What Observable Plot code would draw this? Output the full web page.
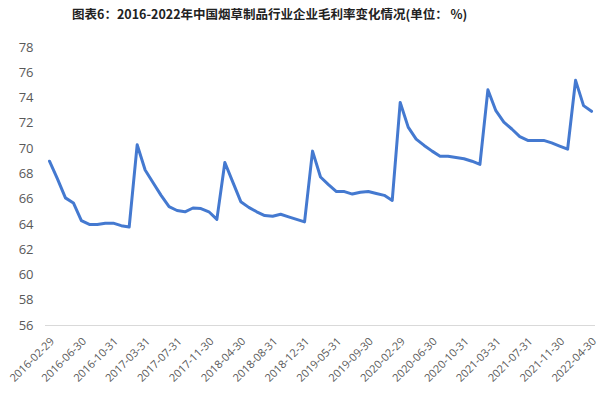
<!DOCTYPE html>
<html><head><meta charset="utf-8">
<script src="https://cdn.jsdelivr.net/npm/d3@7"></script>
<script src="https://cdn.jsdelivr.net/npm/@observablehq/plot@0.6"></script>
<style>
body{margin:0;background:#fff;}
#title{height:30px;line-height:28px;padding-left:72px;font-family:"Noto Sans CJK SC","Noto Sans",sans-serif;font-weight:bold;font-size:12.5px;color:#222;white-space:nowrap;box-sizing:border-box;}
</style></head>
<body>
<div id="title">图表6：2016-2022年中国烟草制品行业企业毛利率变化情况(单位： %)</div>
<div id="chart"></div>
<script>
const dates = [
"2016-02-29","2016-03-31","2016-04-30","2016-05-31","2016-06-30","2016-07-31","2016-08-31","2016-09-30","2016-10-31","2016-11-30","2016-12-31",
"2017-02-28","2017-03-31","2017-04-30","2017-05-31","2017-06-30","2017-07-31","2017-08-31","2017-09-30","2017-10-31","2017-11-30","2017-12-31",
"2018-02-28","2018-03-31","2018-04-30","2018-05-31","2018-06-30","2018-07-31","2018-08-31","2018-09-30","2018-10-31","2018-11-30","2018-12-31",
"2019-02-28","2019-03-31","2019-04-30","2019-05-31","2019-06-30","2019-07-31","2019-08-31","2019-09-30","2019-10-31","2019-11-30","2019-12-31",
"2020-02-29","2020-03-31","2020-04-30","2020-05-31","2020-06-30","2020-07-31","2020-08-31","2020-09-30","2020-10-31","2020-11-30","2020-12-31",
"2021-02-28","2021-03-31","2021-04-30","2021-05-31","2021-06-30","2021-07-31","2021-08-31","2021-09-30","2021-10-31","2021-11-30","2021-12-31",
"2022-02-28","2022-03-31","2022-04-30"
];
const margin = [
69.0,67.6,66.1,65.7,64.3,64.0,64.0,64.1,64.1,63.9,63.8,
70.3,68.3,67.3,66.3,65.4,65.1,65.0,65.3,65.25,65.0,64.4,
68.9,67.35,65.8,65.35,65.0,64.7,64.65,64.8,64.6,64.4,64.2,
69.8,67.75,67.15,66.6,66.6,66.4,66.55,66.6,66.45,66.3,65.9,
73.65,71.7,70.75,70.25,69.8,69.4,69.4,69.3,69.2,69.0,68.75,
74.65,73.0,72.1,71.55,70.95,70.65,70.65,70.65,70.45,70.2,69.95,
75.4,73.4,72.95
];
const xTicks = ["2016-02-29","2016-06-30","2016-10-31","2017-03-31","2017-07-31","2017-11-30","2018-04-30","2018-08-31","2018-12-31","2019-05-31","2019-09-30","2020-02-29","2020-06-30","2020-10-31","2021-03-31","2021-07-31","2021-11-30","2022-04-30"];
const yTicks = [56,58,60,62,64,66,68,70,72,74,76,78];

const data = dates.map((d,i)=>({date:d, value:margin[i]}));

const chart = Plot.plot({
  width:600, height:374,
  marginLeft:45, marginRight:5, marginTop:17, marginBottom:79,
  style:{fontFamily:"'Open Sans', sans-serif", background:"#fff", color:"#595959"},
  x:{type:"point", domain:dates, padding:0.5},
  y:{domain:[56,78]},
  marks:[
    Plot.ruleY([56], {stroke:"#d9d9d9", strokeWidth:1}),
    Plot.axisY(yTicks, {tickSize:0, tickPadding:12, fontSize:13, label:null}),
    Plot.axisX(xTicks, {tickSize:0, tickPadding:14, dx:3, tickRotate:-45, fontSize:11, label:null}),
    Plot.line(data, {x:"date", y:"value", stroke:"#4479d0", strokeWidth:3, strokeLinejoin:"round"})
  ]
});
document.getElementById("chart").appendChild(chart);
</script>
</body></html>
